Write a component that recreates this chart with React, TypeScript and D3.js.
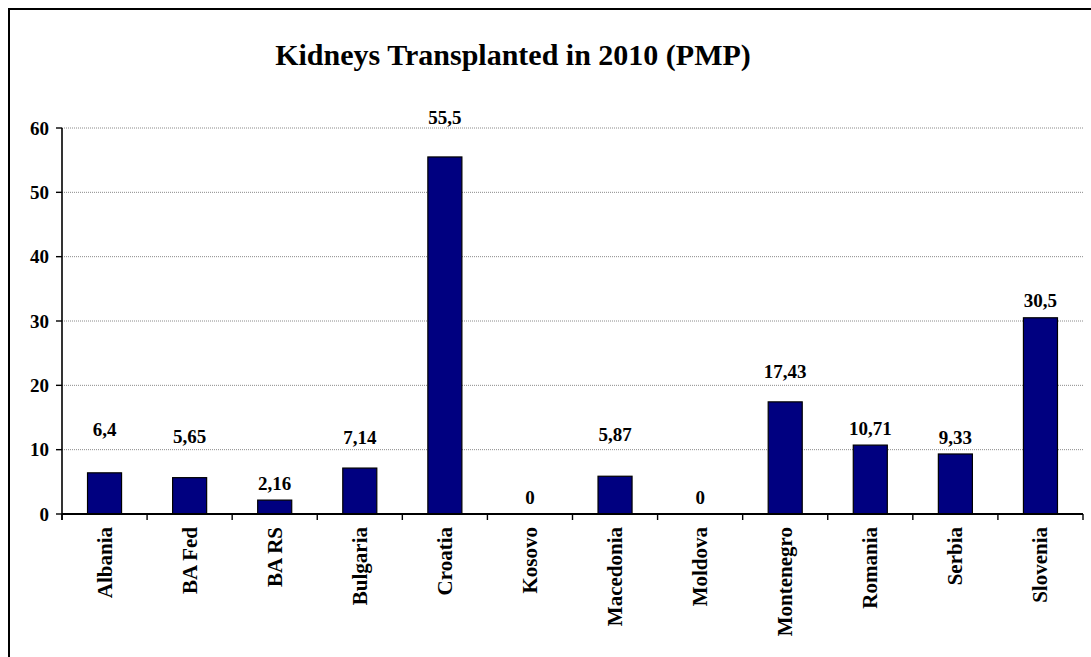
import React from "react";
import * as d3 from "d3";

const countries = [
  "Albania",
  "BA Fed",
  "BA RS",
  "Bulgaria",
  "Croatia",
  "Kosovo",
  "Macedonia",
  "Moldova",
  "Montenegro",
  "Romania",
  "Serbia",
  "Slovenia",
];
const transplants = [6.4, 5.65, 2.16, 7.14, 55.5, 0, 5.87, 0, 17.43, 10.71, 9.33, 30.5];
const yTicks = [0, 10, 20, 30, 40, 50, 60];

// how far each value label sits above its bar (the original placed some higher)
const labelLift: Record<string, number> = {
  Albania: 43,
  "BA Fed": 41,
  Bulgaria: 31,
  Croatia: 40,
  Macedonia: 42,
  Montenegro: 31,
};
const defaultLift = 17;

const W = 1091;
const H = 657;
const left = 62;
const right = 1083;
const top = 128;
const bottom = 514;
const font = "'Times New Roman', 'Liberation Serif', serif";
const barColor = "#000080";

const fmt = (v: number) => String(v).replace(".", ",");

const App = () => {
  const x = d3
    .scaleBand<string>()
    .domain(countries)
    .range([left, right])
    .paddingInner(0.6)
    .paddingOuter(0.3);

  const y = d3.scaleLinear().domain([0, 60]).range([bottom, top]);

  const step = x.step();
  const boundaries = d3.range(countries.length + 1).map((i) => left + i * step);

  return (
    <svg
      width={W}
      height={H}
      style={{ position: "absolute", left: 0, top: 0, background: "#fff" }}
      fontFamily={font}
      fontWeight="bold"
    >
      <rect x={9} y={9} width={W + 10} height={H + 10} fill="#fff" stroke="#000" strokeWidth={2} />

      <text x={513} y={65} textAnchor="middle" fontSize={30}>
        Kidneys Transplanted in 2010 (PMP)
      </text>

      {/* gridlines */}
      {yTicks
        .filter((t) => t > 0)
        .map((t) => (
          <line
            key={"g" + t}
            x1={left}
            x2={right}
            y1={y(t)}
            y2={y(t)}
            stroke="#8a8a8a"
            strokeWidth={1}
            strokeDasharray="1 1"
          />
        ))}

      {/* bars */}
      {countries.map((c, i) => (
        <rect
          key={c}
          x={x(c)}
          y={y(transplants[i])}
          width={x.bandwidth()}
          height={bottom - y(transplants[i])}
          fill={barColor}
          stroke="#000"
          strokeWidth={1.2}
        />
      ))}

      {/* value labels */}
      {countries.map((c, i) => (
        <text
          key={"v" + c}
          x={(x(c) as number) + x.bandwidth() / 2}
          y={y(transplants[i]) - (labelLift[c] ?? defaultLift)}
          dy="0.35em"
          textAnchor="middle"
          fontSize={19}
        >
          {fmt(transplants[i])}
        </text>
      ))}

      {/* y axis */}
      <line x1={left} x2={left} y1={top} y2={bottom + 6} stroke="#000" strokeWidth={1.6} />
      {yTicks.map((t) => (
        <g key={"t" + t}>
          <line x1={left - 6} x2={left} y1={y(t)} y2={y(t)} stroke="#000" strokeWidth={1.4} />
          <text x={49} y={y(t)} dy="0.35em" textAnchor="end" fontSize={19}>
            {t}
          </text>
        </g>
      ))}

      {/* x axis */}
      <line x1={left} x2={right} y1={bottom} y2={bottom} stroke="#000" strokeWidth={1.8} />
      {boundaries.map((bx, i) => (
        <line key={"b" + i} x1={bx} x2={bx} y1={bottom} y2={bottom + 6} stroke="#000" strokeWidth={1.4} />
      ))}
      {countries.map((c) => {
        const cx = (x(c) as number) + x.bandwidth() / 2;
        return (
          <text
            key={"x" + c}
            transform={`translate(${cx + 7},527) rotate(-90)`}
            textAnchor="end"
            fontSize={21}
          >
            {c}
          </text>
        );
      })}
    </svg>
  );
};

export default App;
